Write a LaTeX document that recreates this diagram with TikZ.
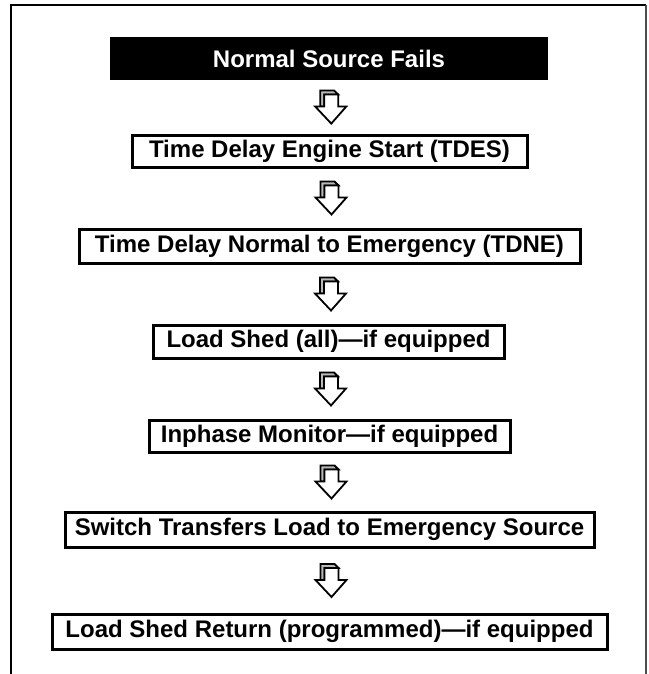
\documentclass[tikz,border=0pt]{standalone}
\usepackage{fontspec}
\setmainfont{Liberation Sans}
\usetikzlibrary{calc}
\tikzset{
  stepbox/.style={draw=black, line width=3pt, fill=white, inner sep=0pt,
    font=\fontsize{24}{28}\selectfont\bfseries},
  startbox/.style={fill=black, text=white, inner sep=0pt,
    font=\fontsize{24}{28}\selectfont\bfseries},
  arrowline/.style={draw=black, line width=1.8pt, line join=miter},
  blockarrow/.pic={
    % raised back of the stem, a grey rim at the top left
    \filldraw[arrowline, fill=gray!55]
      (-11,-4) -- (3,-4) -- (7,0) -- (-7,0) -- (-7,12) -- (-11,12) -- cycle;
    % front face
    \filldraw[arrowline, fill=white]
      (-7,0) -- (7,0) -- (7,12) -- (15,12) -- (0,29) -- (-16,12) -- (-7,12) -- cycle;
  }
}
\begin{document}
\begin{tikzpicture}[x=1pt,y=-1pt]
  \useasboundingbox (0,0) rectangle (648,674);
  % outer frame, open at the bottom
  \draw[line width=2.6pt] (11,674) -- (11,5) -- (646,5);
  \draw[line width=1.2pt, draw=black!70] (646,5) -- (646,674);

  \node[startbox, minimum width=438pt, minimum height=43pt] (s0) at (329,59) {Normal Source Fails};
  \node[stepbox, minimum width=395pt, minimum height=32pt] (s1) at (329.5,151) {Time Delay Engine Start (TDES)};
  \node[stepbox, minimum width=501pt, minimum height=34pt] (s2) at (329.5,246) {Time Delay Normal to Emergency (TDNE)};
  \node[stepbox, minimum width=351pt, minimum height=33pt] (s3) at (328.5,341.5) {Load Shed (all)—if equipped};
  \node[stepbox, minimum width=361pt, minimum height=32pt] (s4) at (329.5,436) {Inphase Monitor—if equipped};
  \node[stepbox, minimum width=529pt, minimum height=35pt] (s5) at (329.5,529.5) {Switch Transfers Load to Emergency Source};
  \node[stepbox, minimum width=555pt, minimum height=35pt] (s6) at (329.5,631.5) {Load Shed Return (programmed)—if equipped};

  \foreach \a/\b in {s0/s1, s1/s2, s2/s3, s3/s4, s4/s5, s5/s6}
    \pic at ($(\a.south)!0.5!(\b.north)+(2,-12.5)$) {blockarrow};
\end{tikzpicture}
\end{document}
